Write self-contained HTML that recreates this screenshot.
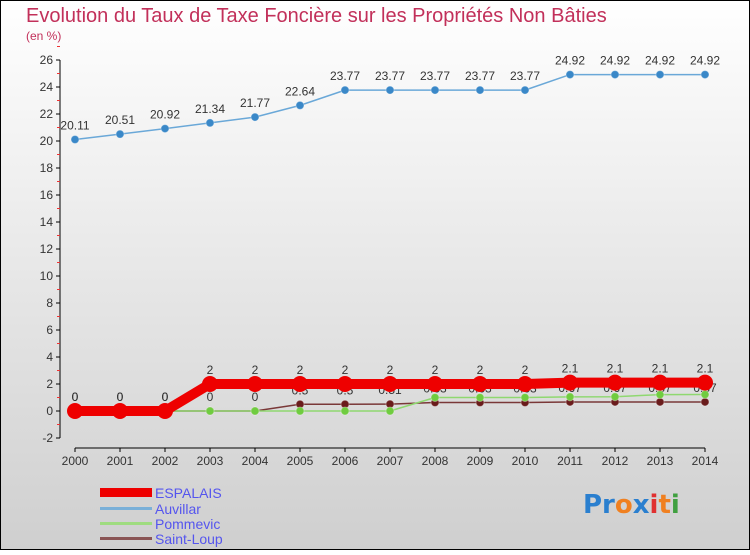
<!DOCTYPE html>
<html><head><meta charset="utf-8">
<style>
html,body{margin:0;padding:0}
body{width:750px;height:550px;overflow:hidden;font-family:"Liberation Sans",sans-serif}
</style></head>
<body>
<svg id="chart" width="750" height="550" xmlns="http://www.w3.org/2000/svg">
<defs>
<linearGradient id="bg" x1="0" y1="0" x2="0" y2="1">
<stop offset="0" stop-color="#ffffff"/><stop offset="1" stop-color="#cfcfcf"/>
</linearGradient>
</defs>
<rect x="0.5" y="0.5" width="749" height="549" fill="url(#bg)" stroke="#000"/>
<text x="26" y="22" font-size="20" fill="#c2305a">Evolution du Taux de Taxe Foncière sur les Propriétés Non Bâties</text>
<text x="26" y="40" font-size="12" fill="#c2305a">(en %)</text>
<g id="axes"></g>
<g id="series"></g>
<g id="legend">
<rect x="100" y="488" width="52" height="9" fill="#ee0000"/>
<text x="155" y="498" font-size="14" fill="#5555ee">ESPALAIS</text>
<rect x="100" y="507" width="52" height="3" fill="#7ab0d8"/>
<text x="155" y="514" font-size="14" fill="#5555ee">Auvillar</text>
<rect x="100" y="522" width="52" height="3" fill="#9fdc80"/>
<text x="155" y="529" font-size="14" fill="#5555ee">Pommevic</text>
<rect x="100" y="537" width="52" height="3" fill="#8a5555"/>
<text x="155" y="544" font-size="14" fill="#5555ee">Saint-Loup</text>
</g>
<text x="583" y="513" font-size="26" font-weight="bold" font-family="'DejaVu Sans',sans-serif"><tspan fill="#2a7fcf">Pr</tspan><tspan fill="#f08020">o</tspan><tspan fill="#2a7fcf">x</tspan><tspan fill="#e03030">i</tspan><tspan fill="#f08020">t</tspan><tspan fill="#40a040">i</tspan></text>
</svg>
<script>
const years = [2000,2001,2002,2003,2004,2005,2006,2007,2008,2009,2010,2011,2012,2013,2014];
const espalais = [0,0,0,2,2,2,2,2,2,2,2,2.1,2.1,2.1,2.1];
const auvillar = [20.11,20.51,20.92,21.34,21.77,22.64,23.77,23.77,23.77,23.77,23.77,24.92,24.92,24.92,24.92];
const pommevic = [0,0,0,0,0,0,0,0,1,1,1,1.05,1.06,1.21,1.22];
const saintLoup = [0,0,0,0,0,0.5,0.5,0.51,0.63,0.63,0.63,0.67,0.67,0.67,0.67];
const yTicks = [-2,0,2,4,6,8,10,12,14,16,18,20,22,24,26];

const NS = "http://www.w3.org/2000/svg";
const X = i => 75 + i*45;
const Y = v => 411 - v*13.5;
function mk(tag, attrs, parent){const e=document.createElementNS(NS,tag);for(const k in attrs)e.setAttribute(k,attrs[k]);parent.appendChild(e);return e;}
const axes=document.getElementById('axes');
const ser=document.getElementById('series');

let yl=mk('line',{x1:60,y1:Y(26),x2:60,y2:Y(-2),stroke:'#000'},axes);


yTicks.forEach(t=>{
  mk('line',{x1:56,y1:Y(t),x2:60,y2:Y(t),stroke:'#000'},axes);
  mk('line',{x1:57,y1:Y(t+1),x2:60,y2:Y(t+1),stroke:'#e33'},axes);
  const tx=mk('text',{x:53,y:Y(t)+4,'font-size':12,'text-anchor':'end',fill:'#333'},axes);
  tx.textContent=t;
  
  
});
let xl=mk('line',{x1:X(0),y1:448,x2:X(years.length-1),y2:448,stroke:'#000'},axes);


years.forEach((y,i)=>{
  mk('line',{x1:X(i),y1:448,x2:X(i),y2:452,stroke:'#000'},axes);
  const tx=mk('text',{x:X(i),y:465,'font-size':12,'text-anchor':'middle',fill:'#333'},axes);
  tx.textContent=y;
  
  
});

function drawSeries(name, vals, color, dotColor, width, r, labels){
  const g=mk('g',{},ser);
  
  
  const pts=vals.map((v,i)=>X(i)+','+Y(v)).join(' ');
  const pl=mk('polyline',{points:pts,fill:'none',stroke:color,'stroke-width':width,'stroke-linejoin':'round'},g);
  
  
  vals.forEach((v,i)=>{
    const c=mk('circle',{cx:X(i),cy:Y(v),r:r,fill:dotColor,stroke:color==dotColor?'none':'#ffffff55'},g);
    
    
    if(labels){
      const t=mk('text',{x:X(i),y:Y(v)-10,'font-size':12,'text-anchor':'middle',fill:'#333'},g);
      t.textContent=String(v);
      
      
    }
  });
}
drawSeries('saint-loup', saintLoup, '#7a3838', '#6a1c1c', 1.5, 4, true);
drawSeries('pommevic', pommevic, '#8fd870', '#70cc40', 1.5, 4, false);
drawSeries('auvillar', auvillar, '#6aa8d8', '#3a88c8', 1.5, 4, true);
drawSeries('espalais', espalais, '#ee0000', '#ee0000', 10, 8, true);
</script>
</body></html>
